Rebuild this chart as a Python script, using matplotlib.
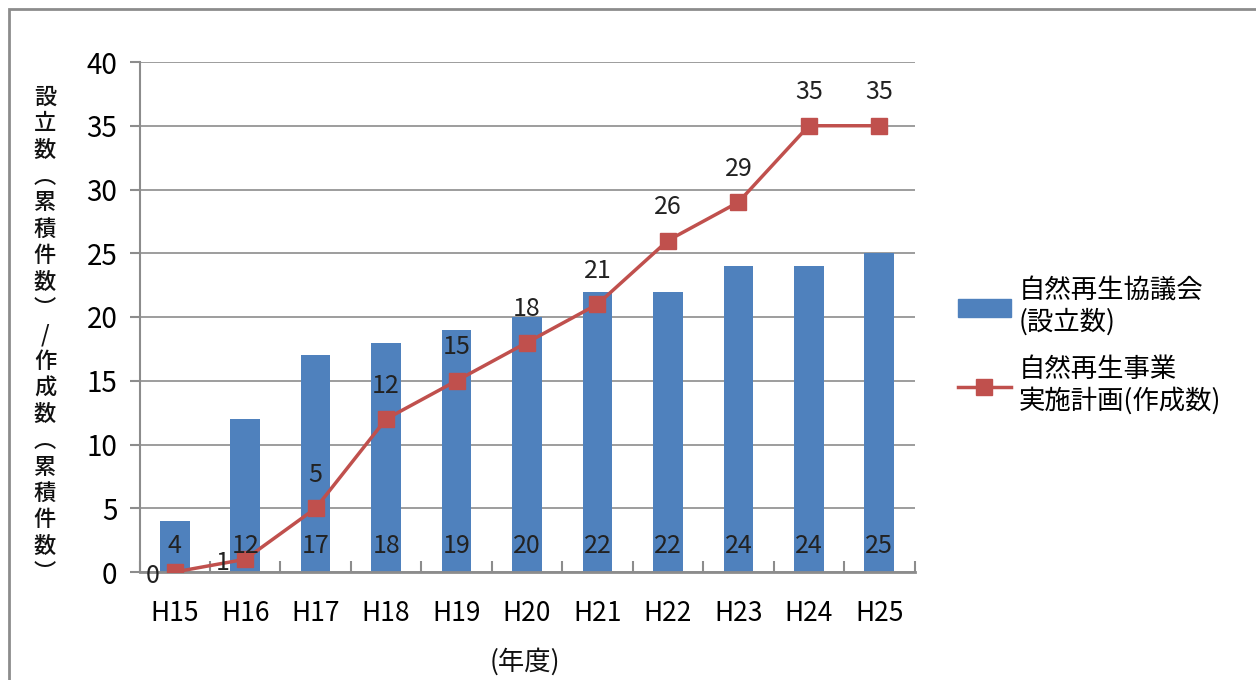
import matplotlib
matplotlib.use("Agg")
import matplotlib.pyplot as plt
from matplotlib.patches import Rectangle
from matplotlib.lines import Line2D
import numpy as np

plt.rcParams['font.family'] = ['Noto Sans CJK JP', 'DejaVu Sans']

categories = ["H15", "H16", "H17", "H18", "H19", "H20", "H21", "H22", "H23", "H24", "H25"]
councils = [4, 12, 17, 18, 19, 20, 22, 22, 24, 24, 25]
plans = [0, 1, 5, 12, 15, 18, 21, 26, 29, 35, 35]
series_names = ["自然再生協議会\n(設立数)", "自然再生事業\n実施計画(作成数)"]
ylabel_text = "設立数︵累積件数︶/作成数︵累積件数︶"
xlabel_text = "(年度)"

blue = "#4F81BD"
red = "#C0504D"

fig = plt.figure(figsize=(12.56, 6.8), dpi=100)
# outer frame
fig.patches.append(Rectangle((9/1256, -0.1), 1.2, 1 - 9/680 + 0.1, transform=fig.transFigure,
                             fill=False, edgecolor="#8c8c8c", linewidth=2))

ax = fig.add_axes([139.5/1256, 1 - 572/680, 775/1256, 510/680])
x = np.arange(len(categories))
ax.bar(x, councils, width=0.42, color=blue, zorder=2)
ax.plot(x, plans, color=red, linewidth=2.5, marker="s", markersize=11, zorder=3)

ax.set_xlim(-0.5, len(categories) - 0.5)
ax.set_ylim(0, 40)
ax.set_yticks(range(0, 41, 5))
ax.grid(axis="y", color="#8c8c8c", linewidth=1.2, zorder=0)
ax.set_axisbelow(True)
for s in ["top", "right"]:
    ax.spines[s].set_visible(False)
ax.spines["left"].set_color("#8c8c8c")
ax.spines["bottom"].set_color("#8c8c8c")
ax.spines["left"].set_linewidth(1.5)
ax.spines["bottom"].set_linewidth(2)

ax.set_xticks(x)
ax.set_xticklabels(categories, fontsize=19)
ax.tick_params(axis="x", length=0, pad=20)
ax.set_xticks(np.arange(-0.5, len(categories)), minor=True)
ax.tick_params(axis="x", which="minor", direction="in", length=8, color="#8c8c8c", width=1.5)
ax.tick_params(axis="y", labelsize=20, length=7, color="#8c8c8c", width=1.5, pad=9)

# data labels
for xi, v in zip(x, councils):
    ax.annotate(str(v), (xi, 0), xytext=(0, 19), textcoords="offset points",
                ha="center", va="center", fontsize=18, color="#222222", zorder=4)
for xi, v in zip(x, plans):
    if xi < 2:
        ax.annotate(str(v), (xi, v), xytext=(-16, -3), textcoords="offset points",
                    ha="center", va="center", fontsize=18, color="#222222", zorder=4)
    else:
        ax.annotate(str(v), (xi, v), xytext=(0, 24), textcoords="offset points",
                    ha="center", va="center", fontsize=18, color="#222222", zorder=4)

# vertical y label
fig.text(45/1256, 1 - 335/680, "\n".join(ylabel_text), ha="center", va="center",
         fontsize=16, linespacing=1.19, color="#111111", fontweight="medium")
fig.text(525/1256, 1 - 662/680, xlabel_text, ha="center", va="center", fontsize=19, color="#111111")

handles = [Rectangle((0, 0), 1, 1, color=blue),
           Line2D([0], [0], color=red, linewidth=2.5, marker="s", markersize=11)]
leg = fig.legend(handles, series_names, loc="center left", bbox_to_anchor=(958/1256, 1 - 346/680),
                 frameon=False, fontsize=19, handlelength=2.0, labelspacing=0.75,
                 handletextpad=0.3, borderpad=0, borderaxespad=0)

fig.savefig("out.png", dpi=100)
